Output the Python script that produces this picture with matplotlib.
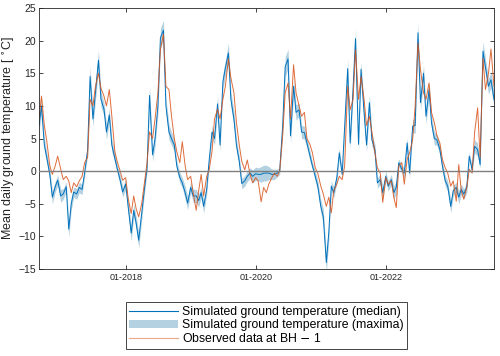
import matplotlib
matplotlib.use('Agg')
import matplotlib.pyplot as plt
import matplotlib.dates as mdates
from matplotlib.lines import Line2D
from matplotlib.patches import Patch
import numpy as np
import pandas as pd

plt.rcParams['font.family'] = ['Liberation Sans', 'DejaVu Sans']

# semi-monthly samples, Sep 2016 -> Sep 2023
dates = pd.date_range('2016-09-01', periods=169, freq='SMS')

# simulated ground temperature (median), deg C
sim_median = [
    7, 10, 4, 2, -0.6, -4, -2.4, -1.4, -3.8, -3.5,
    -2.4, -8.9, -5.0, -3.2, -3.5, -2.5, -2.8, -0.3, 3.2, 14.5,
    8, 12, 17, 11, 9.5, 6, 8.6, 4, 2, 0.3,
    -1.4, -3.2, -2, -5.5, -9.5, -6, -8, -10.6, -6.5, -3,
    0.5, 11.6, 2.5, 5, 10, 20.4, 21.6, 10, 6, 5,
    4, 0.8, -1, -1.8, -3.3, -4.9, -2.5, -3.8, -3.8, -4.5,
    -3.3, -5.4, -2.8, 1.7, 6, 5, 10.3, 4, 13.7, 15.8,
    18.1, 11, 8, 4, 1.5, -1.9, -1.5, -0.8, -0.3, -0.8,
    -0.4, -0.5, -0.5, -0.3, -0.3, -0.3, -0.5, -0.5, -0.3, 0,
    7, 16, 17.2, 5.4, 13, 9, 9.4, 6, 5.9, 4.3,
    2.3, 0.8, -0.8, -2.3, -5.4, -7, -14, -9.4, -2.3, -3.3,
    -1, 2.8, -0.5, 6.9, 15.7, 4.3, 12.5, 20.3, 4.1, 15.6,
    9, 4, 10.5, 4.8, 3.3, -1.8, -1.3, -3.3, -0.8, -2.3,
    -1.3, -3.3, -2.5, 1.3, 0.3, -0.3, 4.3, -0.3, 6.9, 7,
    21.2, 10.5, 15, 8.4, 12.5, 7.4, 5, 4.8, 3.3, 0.8,
    -1.5, -2.3, -5.4, -3, -2.5, -4, -2.8, -3.5, -2.5, 2.3,
    0.2, 3.8, 3.3, 1, 18.4, 16, 13, 14, 11,
]

# half width of the ensemble envelope around the median
sim_spread = [
    1.0, 1.2, 1.0, 0.8, 0.8, 1.0, 0.8, 0.8, 1.0, 0.8,
    0.8, 1.2, 1.0, 0.8, 0.8, 0.8, 0.8, 0.6, 0.8, 1.5,
    1.2, 1.2, 1.5, 1.2, 1.0, 1.2, 1.0, 1.0, 0.8, 0.6,
    0.8, 0.8, 0.8, 1.0, 1.2, 1.0, 1.0, 1.2, 1.0, 0.8,
    0.6, 1.5, 1.0, 1.2, 1.2, 1.5, 1.5, 1.2, 1.2, 1.0,
    1.0, 0.8, 0.8, 0.8, 1.0, 1.0, 0.8, 1.0, 1.0, 1.0,
    0.8, 1.0, 0.8, 0.6, 1.0, 1.0, 1.2, 1.0, 1.2, 1.2,
    1.5, 1.2, 1.2, 1.0, 0.8, 0.8, 0.8, 0.8, 0.8, 1.0,
    1.0, 1.0, 1.2, 1.2, 1.2, 1.0, 0.8, 0.8, 0.6, 0.5,
    1.2, 1.5, 1.5, 1.2, 1.2, 1.2, 1.0, 1.0, 1.0, 0.8,
    0.8, 0.6, 0.8, 0.8, 1.0, 1.2, 1.5, 1.2, 0.8, 0.8,
    0.8, 0.8, 0.6, 1.0, 1.5, 1.0, 1.2, 1.5, 1.0, 1.2,
    1.2, 1.0, 1.2, 1.0, 0.8, 0.8, 0.8, 1.0, 0.8, 0.8,
    0.8, 1.0, 1.0, 0.6, 0.6, 0.8, 0.8, 0.8, 1.0, 1.2,
    1.5, 1.2, 1.2, 1.2, 1.2, 1.0, 1.0, 0.8, 0.8, 0.8,
    0.8, 0.8, 1.0, 0.8, 0.8, 1.0, 0.8, 0.8, 0.8, 0.6,
    0.6, 1.0, 1.0, 0.6, 1.5, 1.2, 1.2, 1.2, 1.2,
]

# observed data at BH-1, deg C
observed = [
    8, 11.5, 7, 4.5, 0.8, -0.5, 0.8, 2.3, 0.3, -1.3,
    -0.8, -1.5, -3.3, -1.8, -2.4, -1.5, -0.8, 1.3, 2.1, 11,
    10, 13, 15, 12.7, 11.5, 10, 12.5, 8.5, 3, 1.4,
    0, -1.4, -1, -4.2, -6.5, -3.8, -5.8, -7, -5, -2,
    1.3, 6, 5, 8, 12, 18.6, 21, 13, 12.5, 8.5,
    5, 3, 1.3, 4.5, 0.8, -1.3, -0.8, -3.3, -6, -3,
    -0.5, -3.8, -0.8, 0.2, 3, 8, 9.5, 8, 11, 13,
    17.2, 14.3, 12, 7.5, 4, 1.5, 0.2, 1.7, -0.5, -1.8,
    -1, -1.5, -4.7, -2.5, -3.3, -2, -1, -0.3, -0.8, 0,
    5.5, 12, 13.5, 8, 16.3, 12, 10, 8.4, 9, 5,
    4.1, 2.8, 0.5, -0.3, -2.3, -3.5, -5.4, -4, -6.4, -3,
    -2, -0.8, -1.3, 0.8, 13, 9.4, 11, 18.6, 11, 14.5,
    11, 7, 8.4, 6, 2.8, 0.5, -0.3, -4.8, -1, -2,
    -1.5, -4, -5.6, 0.8, 1.3, -2, 1.8, 2.8, 4.8, 10,
    19.6, 15.6, 12, 11, 13.5, 9, 7.4, 5.5, 4.3, 1.8,
    0.5, -0.3, -2.3, -1.5, -4.6, 1, -3, -4.3, -2.5, 0.3,
    -0.3, 5.9, 9.7, 2, 17.3, 12.5, 15, 18.7, 13,
]

labels = ['Simulated ground temperature (median)',
          'Simulated ground temperature (maxima)',
          'Observed data at BH $-$ 1']

blue = '#0072BD'
orange = '#D95319'
band_col = '#b3d1e0'

sim = np.array(sim_median)
spread = np.array(sim_spread)

fig = plt.figure(figsize=(5, 3.56), dpi=100)
ax = fig.add_axes([0.078, 0.2444, 0.91, 0.7331])

ax.fill_between(dates, sim - spread, sim + spread, color=band_col, lw=0)
ax.plot(dates, sim, color=blue, lw=0.7)
ax.plot(dates, observed, color=orange, lw=0.7, alpha=0.85)
ax.axhline(0, color='#7f7f7f', lw=1.0, zorder=3)

ax.set_xlim(pd.Timestamp('2016-09-01'), pd.Timestamp('2023-09-01'))
ax.set_ylim(-15, 25)
ax.set_yticks(np.arange(-15, 26, 5))
ax.xaxis.set_major_locator(mdates.YearLocator(2))
ax.xaxis.set_major_formatter(mdates.DateFormatter('%m-%Y'))

ax.tick_params(direction='in', length=3, width=0.6, color='#262626',
               top=True, right=True, labelsize=7.5, labelcolor='#262626', pad=2)
ax.tick_params(axis='x', labelsize=6.5, pad=3)
for s in ax.spines.values():
    s.set_color('#262626')
    s.set_linewidth(0.6)

ax.set_ylabel(r'Mean daily ground temperature [ $^{\circ}$C]', fontsize=9,
              color='#262626', labelpad=1)

handles = [Line2D([], [], color=blue, lw=0.8),
           Patch(facecolor=band_col, edgecolor='none'),
           Line2D([], [], color=orange, lw=0.8, alpha=0.5)]
fig.legend(handles, labels, loc='upper center', bbox_to_anchor=(0.533, 0.168),
           fontsize=8.8, handlelength=4.0, labelspacing=0.1, borderpad=0.3,
           handletextpad=0.3, fancybox=False, framealpha=1,
           edgecolor='#262626').get_frame().set_linewidth(0.6)

fig.savefig('out.png', dpi=100)
